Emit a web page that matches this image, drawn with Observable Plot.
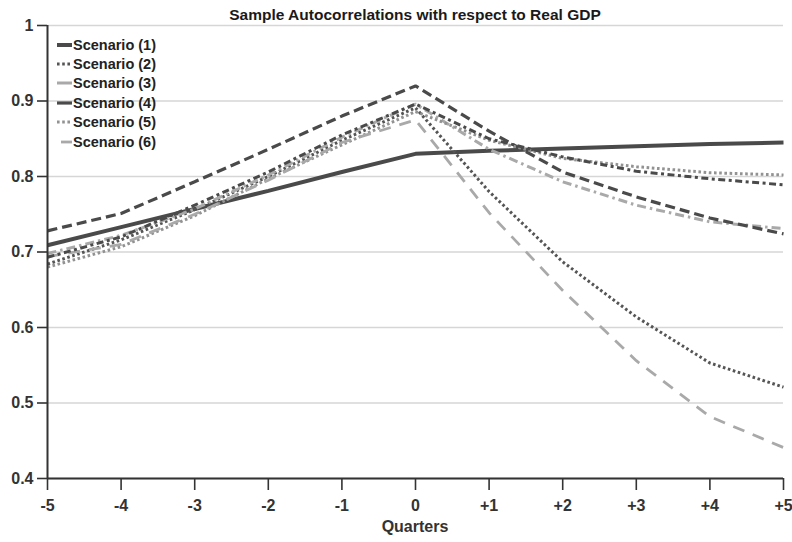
<!DOCTYPE html>
<html><head><meta charset="utf-8">
<script src="https://cdn.jsdelivr.net/npm/d3@7"></script>
<script src="https://cdn.jsdelivr.net/npm/@observablehq/plot@0.6"></script>
<style>
body{margin:0;background:#fff;font-family:"Liberation Sans",Arial,sans-serif;}
#wrap{position:relative;width:792px;height:542px;overflow:hidden;}
#title{box-sizing:border-box;width:792px;padding-left:38px;padding-top:5px;height:25px;line-height:20px;margin-bottom:-12px;text-align:center;font-weight:bold;font-size:15.5px;color:#1a1a1a;position:relative;z-index:2;}
#xlabel{box-sizing:border-box;width:792px;padding-left:38px;height:20px;line-height:20px;text-align:center;font-weight:bold;font-size:16px;color:#333;}
#legend{position:absolute;left:56px;top:35px;z-index:3;}
.row{display:flex;align-items:center;height:19.4px;font-weight:bold;font-size:14.5px;color:#222;}
.row svg{width:17px;height:10px;margin-right:0px;}
</style></head>
<body>
<div id="wrap">
<div id="title">Sample Autocorrelations with respect to Real GDP</div>
<div id="chart"></div>
<div id="xlabel">Quarters</div>
<div id="legend"></div>
</div>
<script>
// Data
const quarters = [-5, -4, -3, -2, -1, 0, 1, 2, 3, 4, 5];
const yTicks = [0.4, 0.5, 0.6, 0.7, 0.8, 0.9, 1.0];
const names = ["Scenario (1)", "Scenario (2)", "Scenario (3)", "Scenario (4)", "Scenario (5)", "Scenario (6)", "Scenario (4b)"];
const scenario1 = [0.709, 0.733, 0.757, 0.781, 0.806, 0.830, 0.834, 0.837, 0.840, 0.843, 0.845];
const scenario2 = [0.684, 0.716, 0.756, 0.800, 0.848, 0.891, 0.780, 0.687, 0.614, 0.553, 0.521];
const scenario3 = [0.698, 0.722, 0.757, 0.802, 0.852, 0.896, 0.836, 0.793, 0.762, 0.740, 0.731];
const scenario4 = [0.728, 0.751, 0.793, 0.836, 0.880, 0.920, 0.860, 0.806, 0.773, 0.745, 0.724];
const scenario5 = [0.680, 0.707, 0.748, 0.797, 0.842, 0.886, 0.848, 0.824, 0.813, 0.805, 0.802];
const scenario6 = [0.694, 0.710, 0.750, 0.795, 0.845, 0.875, 0.752, 0.649, 0.556, 0.482, 0.441];
const scenario4b = [0.693, 0.720, 0.762, 0.806, 0.855, 0.896, 0.850, 0.826, 0.807, 0.797, 0.789];
const seriesValues = [scenario1, scenario2, scenario3, scenario4, scenario5, scenario6, scenario4b];

// Styles (kept apart from the data)
const DARK = "#4a4a4a", LIGHT = "#a9a9a9";
const styles = [
  {stroke: DARK, strokeWidth: 4, dash: null},
  {stroke: "#555", strokeWidth: 3, dash: "2.6,2.6"},
  {stroke: LIGHT, strokeWidth: 3, dash: "9,4,2.5,4"},
  {stroke: DARK, strokeWidth: 3.2, dash: "10,5"},
  {stroke: "#929292", strokeWidth: 3, dash: "2.6,2.6"},
  {stroke: LIGHT, strokeWidth: 2.8, dash: "12,9"},
  {stroke: DARK, strokeWidth: 3, dash: "7,3.5,3,3.5"}
];

const rows = seriesValues.map((vals, i) => quarters.map((q, j) => ({series: names[i], q, v: vals[j]})));

const lineMarks = rows.map((data, i) => Plot.line(data, {
  x: "q", y: "v",
  stroke: styles[i].stroke,
  strokeWidth: styles[i].strokeWidth,
  strokeDasharray: styles[i].dash || undefined,
  strokeLinecap: "butt",
  strokeLinejoin: "miter"
}));

const chart = Plot.plot({
  width: 792,
  height: 504,
  marginTop: 12,
  marginLeft: 47,
  marginRight: 9,
  marginBottom: 39,
  x: {domain: [-5, 5]},
  y: {domain: [0.4, 1]},
  style: {fontFamily: "Liberation Sans, Arial, sans-serif", fontSize: "16px", fontWeight: "bold", color: "#333", background: "white", overflow: "visible"},
  marks: [
    Plot.gridY(yTicks, {stroke: "#d6d6d6", strokeOpacity: 1, strokeWidth: 1.6}),
    ...lineMarks,
    Plot.ruleX([-5], {stroke: "#333", strokeWidth: 2}),
    Plot.ruleY([0.4], {stroke: "#333", strokeWidth: 2}),
    Plot.axisY(yTicks, {tickSize: 10, tickPadding: 4, fontSize: 16, tickFormat: d => d === 1 ? "1" : d.toFixed(1), stroke: "#333", strokeWidth: 1.6, label: null}),
    Plot.axisX(quarters, {tickSize: 12, tickPadding: 9, fontSize: 16, tickFormat: d => d > 0 ? "+" + d : String(d), stroke: "#333", strokeWidth: 1.6, label: null})
  ]
});
document.getElementById("chart").appendChild(chart);

// Legend (first six series)
const legend = document.getElementById("legend");
names.slice(0, 6).forEach((name, i) => {
  const s = styles[i];
  const row = document.createElement("div");
  row.className = "row";
  row.innerHTML = `<svg viewBox="0 0 17 10"><line x1="${i === 5 ? 5 : 1}" y1="5" x2="16" y2="5" stroke="${s.stroke}" stroke-width="${s.strokeWidth}" ${s.dash && i !== 2 && i !== 3 && i !== 5 ? `stroke-dasharray="${s.dash}"` : ""}/></svg><span>${name}</span>`;
  legend.appendChild(row);
});
</script>
</body></html>
